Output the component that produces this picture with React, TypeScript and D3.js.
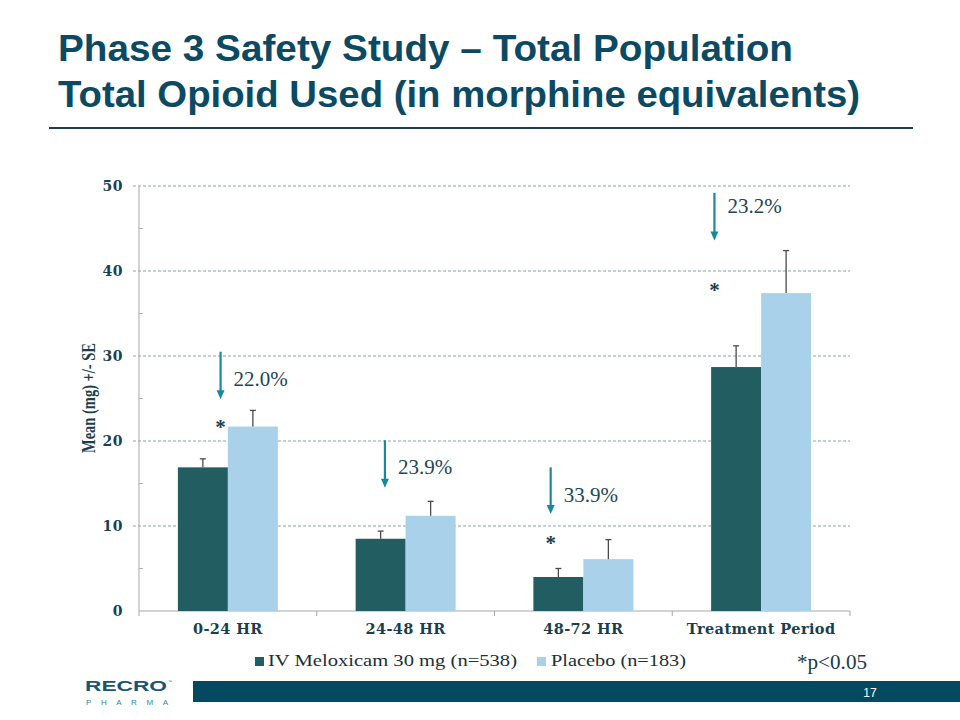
import React from "react";
import * as d3 from "d3";

const categories = ["0-24 HR", "24-48 HR", "48-72 HR", "Treatment Period"];
const seriesNames = ["IV Meloxicam 30 mg (n=538)", "Placebo (n=183)"];
const meloxicamMean = [16.9, 8.5, 4.0, 28.7];
const meloxicamSE = [1.0, 0.9, 1.0, 2.5];
const placeboMean = [21.7, 11.2, 6.1, 37.4];
const placeboSE = [1.9, 1.7, 2.3, 5.0];
const yTicks = [0, 10, 20, 30, 40, 50];
const yMinorTicks = [5, 15, 25, 35, 45];
const reductionLabels = ["22.0%", "23.9%", "33.9%", "23.2%"];
const arrowTop = [30.5, 20.1, 16.9, 49.2];
const arrowTip = [24.9, 14.5, 11.4, 43.6];
const labelBase = [26.5, 16.1, 12.8, 46.8];
const annotX = [0.427, 0.293, 0.173, 0.033];
const starY = [22.0, null, 8.35, 38.1];

const colors = ["#225d62", "#a9d2ea"];
const TEAL = "#198b98";
const TEXT = "#1d4656";
const SERIF = "'Liberation Serif', 'Times New Roman', serif";
const WIDESERIF = "'DejaVu Serif', serif";
const SANS = "'Liberation Sans', Arial, sans-serif";

export default function App() {
  const left = 139, right = 850, top = 186, bottom = 611;
  const y = d3.scaleLinear().domain([0, 50]).range([bottom, top]);
  const x0 = d3.scaleBand().domain(categories).range([left, right]).padding(0);
  const gw = x0.bandwidth() * 0.5625;
  const x1 = d3.scaleBand().domain(seriesNames).range([0, gw]).padding(0);
  const gStart = (c: string) => (x0(c) as number) + (x0.bandwidth() - gw) / 2;
  const means = [meloxicamMean, placeboMean];
  const ses = [meloxicamSE, placeboSE];
  const boundaries = [...categories.map((c) => x0(c) as number), right];

  return (
    <svg width={960} height={720} style={{ position: "absolute", left: 0, top: 0, background: "#fff" }}>
      {/* Title */}
      <text x={58} y={61} fontFamily={SANS} fontWeight="bold" fontSize={37} fill="#0c4a63" textLength={735} lengthAdjust="spacingAndGlyphs">
        Phase 3 Safety Study – Total Population
      </text>
      <text x={58} y={107} fontFamily={SANS} fontWeight="bold" fontSize={37} fill="#0c4a63" textLength={802} lengthAdjust="spacingAndGlyphs">
        Total Opioid Used (in morphine equivalents)
      </text>
      <line x1={49} x2={913} y1={128} y2={128} stroke="#1c3d4c" strokeWidth={2} />

      {/* gridlines */}
      {yTicks.filter((t) => t > 0).map((t) => (
        <line key={"g" + t} x1={133} x2={right} y1={y(t)} y2={y(t)} stroke="#8fa3ab" strokeWidth={1} strokeDasharray="3,2" />
      ))}
      {yMinorTicks.map((t) => (
        <line key={"m" + t} x1={left} x2={left + 4} y1={y(t)} y2={y(t)} stroke="#b0b0b0" strokeWidth={1} />
      ))}
      <line x1={left} x2={left} y1={top} y2={bottom} stroke="#a8a8a8" strokeWidth={1} />
      <line x1={left} x2={right} y1={bottom} y2={bottom} stroke="#a8a8a8" strokeWidth={1} />
      {boundaries.map((b, i) => (
        <line key={"xt" + i} x1={b} x2={b} y1={bottom} y2={bottom + 5} stroke="#a8a8a8" strokeWidth={1} />
      ))}
      {yTicks.map((t) => (
        <text key={"yl" + t} x={123} y={y(t) + 5} textAnchor="end" fontFamily={WIDESERIF} fontWeight="bold" fontSize={14} letterSpacing={0.5} fill="#1a4151">
          {t}
        </text>
      ))}
      <text transform={`translate(95,398) rotate(-90)`} textAnchor="middle" fontFamily={SERIF} fontWeight="bold" fontSize={18} fill="#17404f" textLength={110} lengthAdjust="spacingAndGlyphs">
        Mean (mg) +/- SE
      </text>

      {/* bars */}
      {categories.map((c, ci) => (
        <g key={c}>
          {seriesNames.map((s, si) => {
            const bx = gStart(c) + (x1(s) as number);
            const bw = x1.bandwidth();
            const v = means[si][ci];
            const e = ses[si][ci];
            const cx = bx + bw / 2;
            return (
              <g key={s}>
                <rect x={bx} y={y(v)} width={bw} height={bottom - y(v)} fill={colors[si]} />
                <line x1={cx} x2={cx} y1={y(v)} y2={y(v + e)} stroke="#4a4a4a" strokeWidth={1.3} />
                <line x1={cx - 3} x2={cx + 3} y1={y(v + e)} y2={y(v + e)} stroke="#4a4a4a" strokeWidth={1.3} />
              </g>
            );
          })}
          <text x={(x0(c) as number) + x0.bandwidth() / 2} y={634} textAnchor="middle" fontFamily={WIDESERIF} fontWeight="bold" fontSize={14.5} letterSpacing={0.4} fill="#1b3e4e">
            {c}
          </text>
        </g>
      ))}

      {/* annotations */}
      {categories.map((c, ci) => {
        const ax = gStart(c) + gw * annotX[ci];
        const yt = y(arrowTop[ci]);
        const yp = y(arrowTip[ci]);
        const sy = starY[ci];
        return (
          <g key={"a" + ci}>
            <line x1={ax} x2={ax} y1={yt} y2={yp - 8} stroke={TEAL} strokeWidth={2.2} />
            <path d={`M${ax - 4},${yp - 9} L${ax + 4},${yp - 9} L${ax},${yp} Z`} fill={TEAL} />
            <text x={ax + 13} y={y(labelBase[ci])} fontFamily={SERIF} fontSize={21} fill={TEXT}>
              {reductionLabels[ci]}
            </text>
            {sy !== null && (
              <text x={ax} y={y(sy as number) + 10} textAnchor="middle" fontFamily={SERIF} fontWeight="bold" fontSize={21} fill="#183f50">
                *
              </text>
            )}
          </g>
        );
      })}

      {/* legend */}
      <rect x={255} y={657} width={9} height={9} fill={colors[0]} />
      <text x={268} y={666} fontFamily={SERIF} fontSize={17} fill="#1d2f38" textLength={249} lengthAdjust="spacingAndGlyphs">
        {seriesNames[0]}
      </text>
      <rect x={537} y={657} width={9} height={9} fill={colors[1]} />
      <text x={551} y={666} fontFamily={SERIF} fontSize={17} fill="#1d2f38" textLength={135} lengthAdjust="spacingAndGlyphs">
        {seriesNames[1]}
      </text>
      <text x={797} y={669} fontFamily={SERIF} fontSize={21} fill="#1d3a48" textLength={70} lengthAdjust="spacingAndGlyphs">
        *p&lt;0.05
      </text>

      {/* footer */}
      <rect x={193} y={681} width={767} height={21} fill="#03495f" />
      <text x={870} y={697} textAnchor="middle" fontFamily={SANS} fontSize={12} fill="#ffffff">
        17
      </text>
      <text x={85} y={691} fontFamily={SANS} fontWeight="bold" fontSize={14} fill="#1b5670" textLength={82} lengthAdjust="spacingAndGlyphs">
        RECRO
      </text>
      <text x={168} y={683} fontFamily={SANS} fontSize={4} fill="#1b5670">
        ™
      </text>
      <text x={86} y={705} fontFamily={SANS} fontSize={8} fill="#2f8a9d" textLength={82} lengthAdjust="spacing">
        PHARMA
      </text>
    </svg>
  );
}
